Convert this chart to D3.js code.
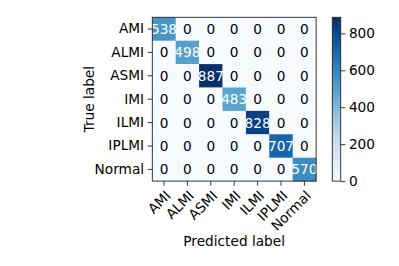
<!DOCTYPE html>
<html>
<head>
<meta charset="utf-8">
<script src="https://cdn.jsdelivr.net/npm/d3@7"></script>
<style>
html,body{margin:0;padding:0;background:#fff;}
svg{display:block;font-family:"DejaVu Sans",sans-serif;}
</style>
</head>
<body>
<svg id="chart" width="399" height="266"></svg>
<script>
const classes = ["AMI","ALMI","ASMI","IMI","ILMI","IPLMI","Normal"];
const matrix = [
  [538,0,0,0,0,0,0],
  [0,498,0,0,0,0,0],
  [0,0,887,0,0,0,0],
  [0,0,0,483,0,0,0],
  [0,0,0,0,828,0,0],
  [0,0,0,0,0,707,0],
  [0,0,0,0,0,0,570]
];
const colorbarTicks = [0,200,400,600,800];
const xTitle = "Predicted label";
const yTitle = "True label";

const svg = d3.select("#chart");
const fs = 13.7;
const mLeft = 152.3, mTop = 17.3, mSize = 163.8;
const vmax = d3.max(matrix.flat());
const blues = ["#f7fbff","#deebf7","#c6dbef","#9ecae1","#6baed6","#4292c6","#2171b5","#08519c","#08306b"];
const interp = d3.piecewise(d3.interpolateRgb, blues);
const color = d3.scaleSequential(interp).domain([0, vmax]);

const x = d3.scaleBand().domain(classes).range([mLeft, mLeft+mSize]);
const y = d3.scaleBand().domain(classes).range([mTop, mTop+mSize]);

const cells = [];
matrix.forEach((row,i)=>row.forEach((v,j)=>cells.push({r:classes[i],c:classes[j],v})));

svg.append("g").selectAll("rect").data(cells).join("rect")
  .attr("x", d=>x(d.c)).attr("y", d=>y(d.r))
  .attr("width", x.bandwidth()+0.3).attr("height", y.bandwidth()+0.3)
  .attr("fill", d=>color(d.v));

const thresh = vmax/2;
svg.append("g").selectAll("text").data(cells).join("text")
  .attr("x", d=>x(d.c)+x.bandwidth()/2)
  .attr("y", d=>y(d.r)+y.bandwidth()/2)
  .attr("text-anchor","middle").attr("dominant-baseline","central")
  .attr("font-size", fs)
  .attr("fill", d=> d.v > thresh ? "#fff" : "#000")
  .text(d=>d.v);

// frame
svg.append("rect").attr("x",mLeft).attr("y",mTop).attr("width",mSize).attr("height",mSize)
  .attr("fill","none").attr("stroke","#222").attr("stroke-width",0.9);

// y axis
const yAxis = d3.axisLeft(y).tickSize(4.7).tickPadding(3.5);
const gy = svg.append("g").attr("transform",`translate(${mLeft},0)`).call(yAxis);
gy.select(".domain").remove();
gy.selectAll("text").attr("font-size",fs).attr("fill","#000").attr("font-family","DejaVu Sans");
gy.selectAll("line").attr("stroke","#222").attr("stroke-width",0.9);

// x axis
const xAxis = d3.axisBottom(x).tickSize(4.7).tickPadding(3.5);
const gx = svg.append("g").attr("transform",`translate(0,${mTop+mSize})`).call(xAxis);
gx.select(".domain").remove();
gx.selectAll("line").attr("stroke","#222").attr("stroke-width",0.9);
gx.selectAll("text").attr("font-size",fs).attr("fill","#000").attr("font-family","DejaVu Sans")
  .attr("text-anchor","end").attr("dy",null).attr("y",null)
  .attr("transform","translate(7.5,15.5) rotate(-45)");

// titles
svg.append("text").attr("x", mLeft+mSize/2).attr("y", 246)
  .attr("text-anchor","middle").attr("font-size",fs).text(xTitle);
svg.append("text").attr("transform",`translate(93.5,${mTop+mSize/2}) rotate(-90)`)
  .attr("text-anchor","middle").attr("font-size",fs).text(yTitle);

// colorbar
const cbx = 332.3, cbw = 8.4, cbTop = 17.3, cbBot = 181.1;
const cy = d3.scaleLinear().domain([0, vmax]).range([cbBot, cbTop]);
const defs = svg.append("defs");
const grad = defs.append("linearGradient").attr("id","cbgrad")
  .attr("x1","0").attr("y1","1").attr("x2","0").attr("y2","0");
d3.range(0,1.0001,0.05).forEach(t=>grad.append("stop").attr("offset",t).attr("stop-color",interp(t)));
svg.append("rect").attr("x",cbx).attr("y",cbTop).attr("width",cbw).attr("height",cbBot-cbTop)
  .attr("fill","url(#cbgrad)").attr("stroke","#222").attr("stroke-width",0.9);
const cAxis = d3.axisRight(cy).tickValues(colorbarTicks).tickSize(4.7).tickPadding(3.5);
const gc = svg.append("g").attr("transform",`translate(${cbx+cbw},0)`).call(cAxis);
gc.select(".domain").remove();
gc.selectAll("line").attr("stroke","#222").attr("stroke-width",0.9);
gc.selectAll("text").attr("font-size",fs).attr("fill","#000").attr("font-family","DejaVu Sans");
</script>
</body>
</html>
